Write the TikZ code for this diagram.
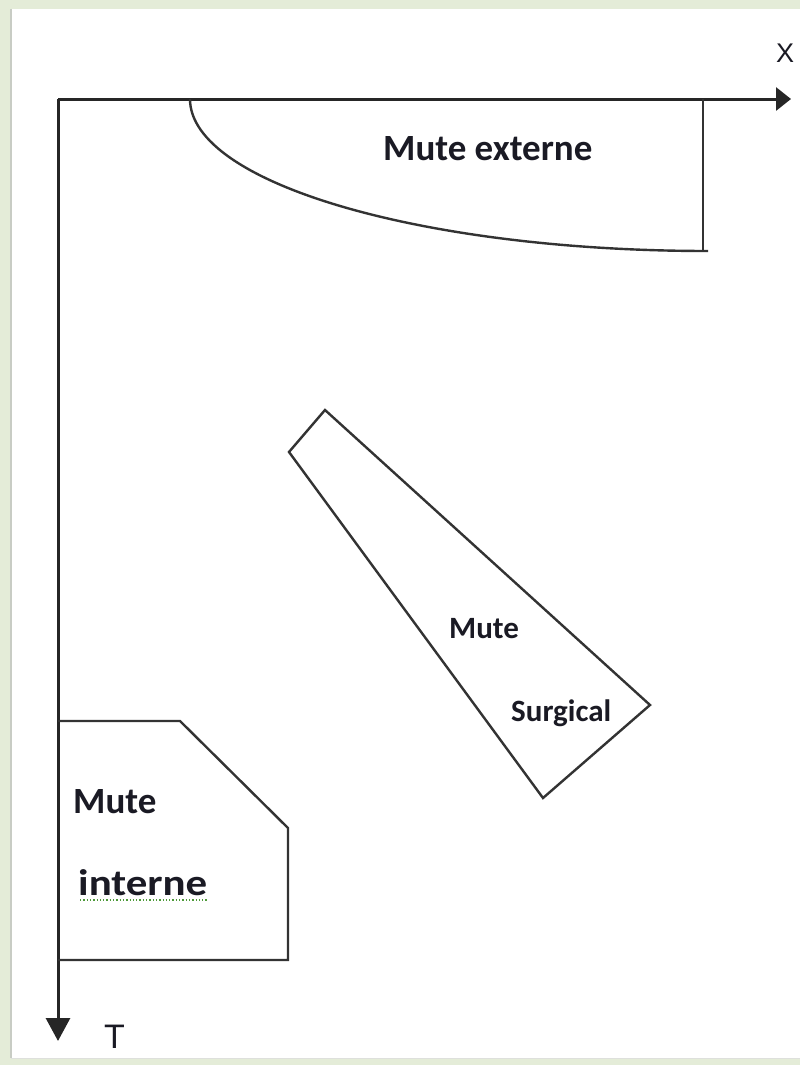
\documentclass[tikz,border=0pt]{standalone}
\usepackage{fontspec}
\newfontfamily\calfont{Carlito}
\newfontfamily\arifont{Liberation Sans}
\usetikzlibrary{arrows.meta}
\definecolor{bgG}{HTML}{E4ECD8}
\definecolor{edgeG}{HTML}{C8CCC4}
\definecolor{lineC}{HTML}{333333}
\definecolor{txtC}{HTML}{1A1A24}
\definecolor{spellG}{HTML}{4E9A3A}
\begin{document}
\begin{tikzpicture}[x=1pt,y=-1pt,
  axisline/.style={line width=3pt,draw=black!85},
  outline/.style={line width=2.4pt,draw=lineC,line join=miter},
  bigtxt/.style={anchor=base west,inner sep=0pt,text=txtC,font=\calfont\bfseries\fontsize{37}{42}\selectfont},
  midtxt/.style={anchor=base west,inner sep=0pt,text=txtC,font=\calfont\bfseries\fontsize{31}{36}\selectfont},
  axtxt/.style={anchor=base west,inner sep=0pt,text=txtC,font=\arifont\fontsize{34}{40}\selectfont}]
\useasboundingbox (0,0) rectangle (800,1065);
\begin{scope}
\clip (0,0) rectangle (800,1065);
% background frame
\fill[bgG] (0,0) rectangle (800,1065);
\fill[white] (11,9) rectangle (800,1058);
\draw[edgeG,line width=2pt] (11,9) -- (11,1058);
\draw[edgeG!60,line width=1pt] (11,1058) -- (800,1058);
% axes
\coordinate (O) at (58,99);
\coordinate (Xend) at (791,99);
\coordinate (Tend) at (58,1041);
\draw[axisline,-{Triangle[length=15pt,width=23pt]}] (O) -- (Xend);
\draw[axisline,-{Triangle[length=23pt,width=24pt]}] (O) -- (Tend);
\node[axtxt,font=\arifont\fontsize{27}{30}\selectfont] (xlab) at (776,63) {X};
\node[axtxt] (tlab) at (104,1048) {T};
% Mute externe
\coordinate (extA) at (190,99);
\coordinate (extR) at (703,99);
\coordinate (extB) at (703,251);
\draw[outline] (extA) arc[start angle=180,end angle=90,x radius=518,y radius=152];
\draw[outline] (extR) -- (extB);
\node[bigtxt] (ext) at (383,160) {Mute externe};
% Mute surgical
\coordinate (s1) at (325,410);
\coordinate (s2) at (289,452);
\coordinate (s3) at (543,798);
\coordinate (s4) at (650,705);
\draw[outline] (s1) -- (s2) -- (s3) -- (s4) -- cycle;
\node[midtxt] (sm) at (449,638) {Mute};
\node[midtxt] (ss) at (511,721) {Surgical};
% Mute interne
\coordinate (i1) at (58,721);
\coordinate (i2) at (180,721);
\coordinate (i3) at (288,828);
\coordinate (i4) at (288,960);
\coordinate (i5) at (58,960);
\draw[outline] (i1) -- (i2) -- (i3) -- (i4) -- (i5);
\node[bigtxt] (im) at (73,813) {Mute};
\node[bigtxt] (ii) at (78,895) {\scalebox{1.16}[1]{interne}};
\draw[spellG,line width=1.3pt,dash pattern=on 1.3pt off 2pt] (ii.base west) ++(2,5) -- ++(128,0);
\end{scope}
\end{tikzpicture}
\end{document}
